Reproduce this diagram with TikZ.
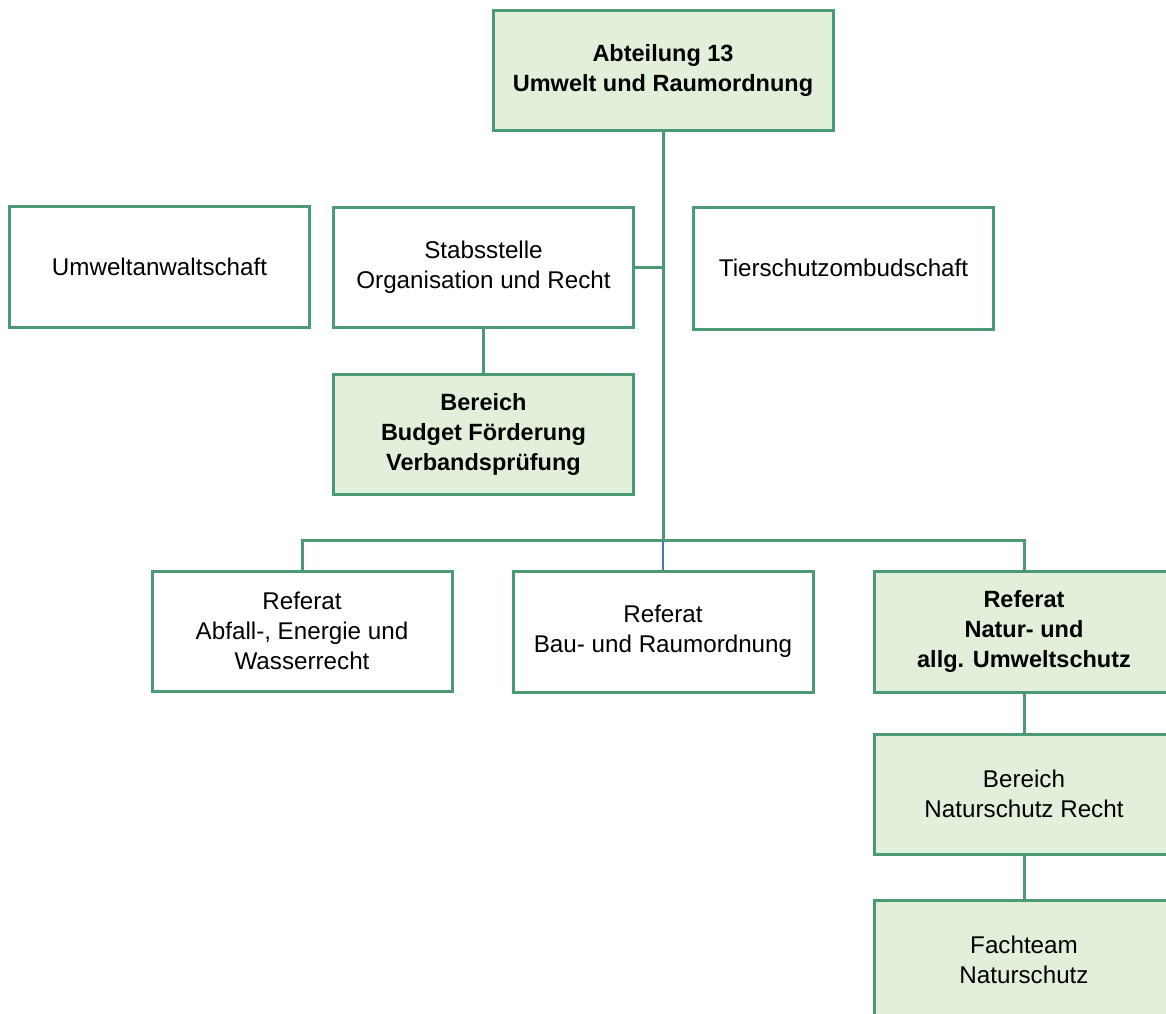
\documentclass[tikz,border=0pt]{standalone}
\usepackage{fontspec}
\setmainfont{Liberation Sans}
\definecolor{bgreen}{RGB}{76,154,115}
\definecolor{lgreen}{RGB}{226,239,218}
\definecolor{lblue}{RGB}{68,114,196}
\begin{document}
\begin{tikzpicture}[x=1pt,y=-1pt,
  box/.style={draw=bgreen, line width=3pt, fill=white, minimum width=300pt, minimum height=120pt,
    align=center, inner sep=0pt, font=\fontsize{24.2}{30}\selectfont},
  gbox/.style={box, fill=lgreen},
  bbox/.style={gbox, font=\fontsize{23.5}{30}\selectfont\bfseries},
  conn/.style={draw=bgreen, line width=3pt}]
\useasboundingbox (0,0) rectangle (1166,1013);
\clip (0,0) rectangle (1166,1013);
\node[bbox, minimum width=340pt] (top) at (663,70) {Abteilung 13\\Umwelt und Raumordnung};
\node[box, minimum height=121pt] (uwa) at (159.5,266.5) {Umweltanwaltschaft};
\node[box] (stab) at (483.5,267) {Stabsstelle\\Organisation und Recht};
\node[box, minimum height=122pt] (tier) at (843.5,268) {Tierschutzombudschaft};
\node[bbox] (bud) at (483.5,434) {Bereich\\Budget Förderung\\Verbandsprüfung};
\node[box] (abf) at (302,631) {Referat\\Abfall-, Energie und\\Wasserrecht};
\node[box, minimum height=121pt] (bau) at (663,631.5) {Referat\\Bau- und Raumordnung};
\node[bbox, minimum height=121pt] (nat) at (1024,631.5) {Referat\\Natur- und\\allg. Umweltschutz};
\node[gbox] (nbr) at (1024,794) {Bereich\\Naturschutz Recht};
\node[gbox] (fach) at (1024,960) {Fachteam\\Naturschutz};
\coordinate (j) at (663,540.5);
\draw[conn] (top.south) -- (j);
\draw[conn] (stab.east) -- (stab.east -| top.south);
\draw[conn] (stab.south) -- (bud.north);
\draw[conn] (abf.north) -- (abf.north |- j) -- (j) -- (nat.north |- j) -- (nat.north);
\draw[draw=lblue, line width=2pt] (j) -- (bau.north);
\draw[conn] (nat.south) -- (nbr.north);
\draw[conn] (nbr.south) -- (fach.north);
\end{tikzpicture}
\end{document}
